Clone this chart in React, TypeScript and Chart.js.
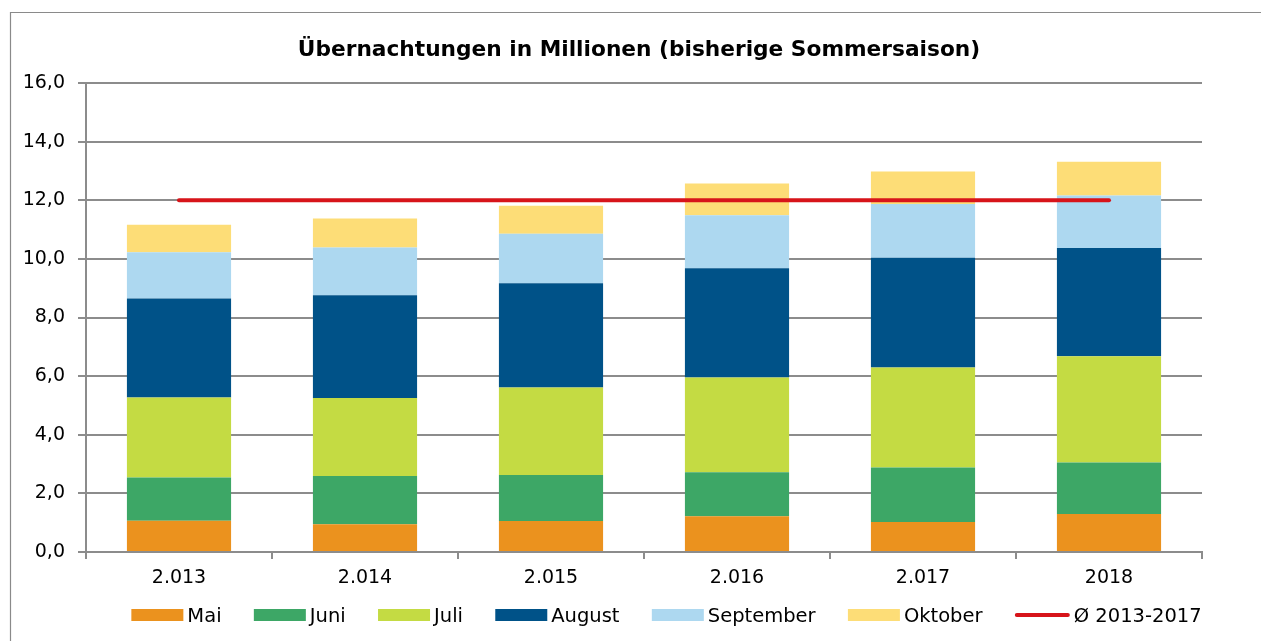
import React, { useEffect, useRef } from "react";
import { Chart, registerables } from "chart.js";

Chart.register(...registerables);

const CATEGORIES = ["2.013", "2.014", "2.015", "2.016", "2.017", "2018"];
const MAI = [1.07, 0.95, 1.06, 1.22, 1.02, 1.3];
const JUNI = [1.47, 1.64, 1.57, 1.5, 1.86, 1.75];
const JULI = [2.73, 2.66, 2.98, 3.23, 3.41, 3.63];
const AUGUST = [3.38, 3.51, 3.56, 3.73, 3.75, 3.69];
const SEPTEMBER = [1.58, 1.63, 1.69, 1.81, 1.83, 1.79];
const OKTOBER = [0.93, 0.99, 0.95, 1.08, 1.11, 1.15];
const AVERAGE = [12, 12, 12, 12, 12, 12];
const TITLE = "Übernachtungen in Millionen (bisherige Sommersaison)";
const AVERAGE_LABEL = "Ø 2013-2017";

const FONT = '"DejaVu Sans", Verdana, sans-serif';
const GRID = "#8c8c8c";

const framePlugin = {
  id: "frame",
  beforeDraw(chart: any) {
    const ctx = chart.ctx;
    ctx.save();
    ctx.strokeStyle = "#8a8a8a";
    ctx.lineWidth = 1.2;
    ctx.beginPath();
    ctx.moveTo(10.5, chart.height);
    ctx.lineTo(10.5, 12.5);
    ctx.lineTo(chart.width, 12.5);
    ctx.stroke();
    ctx.restore();
  },
};

const titlePlugin = {
  id: "customTitle",
  afterDraw(chart: any) {
    const ctx = chart.ctx;
    ctx.save();
    ctx.font = `bold 21.7px ${FONT}`;
    ctx.fillStyle = "#000";
    ctx.textAlign = "center";
    ctx.textBaseline = "alphabetic";
    ctx.fillText(TITLE, 639, 56);
    ctx.restore();
  },
};

const legendPlugin = {
  id: "customLegend",
  afterDraw(chart: any) {
    const ctx = chart.ctx;
    ctx.save();
    ctx.font = `19.5px ${FONT}`;
    const BOX = 52;
    const LINE = 55;
    const GAP = 4;
    const SPACING = 32.3;
    const CENTER_X = 666.5;
    const BASE_Y = 622;
    const BOX_TOP = 609;
    const BOX_H = 12;
    const items = chart.data.datasets.map((ds: any) => {
      const isLine = ds.type === "line";
      const tw = ctx.measureText(ds.label).width;
      return {
        label: ds.label,
        color: isLine ? ds.borderColor : ds.backgroundColor,
        isLine,
        tw,
        w: (isLine ? LINE : BOX) + GAP + tw,
      };
    });
    const total =
      items.reduce((s: number, it: any) => s + it.w, 0) + SPACING * (items.length - 1);
    let x = CENTER_X - total / 2;
    ctx.textBaseline = "alphabetic";
    ctx.textAlign = "left";
    for (const it of items) {
      if (it.isLine) {
        ctx.strokeStyle = it.color;
        ctx.lineWidth = 4;
        ctx.lineCap = "round";
        ctx.beginPath();
        ctx.moveTo(x + 2, BOX_TOP + BOX_H / 2);
        ctx.lineTo(x + LINE - 2, BOX_TOP + BOX_H / 2);
        ctx.stroke();
        x += LINE + GAP;
      } else {
        ctx.fillStyle = it.color;
        ctx.fillRect(x, BOX_TOP, BOX, BOX_H);
        x += BOX + GAP;
      }
      ctx.fillStyle = "#000";
      ctx.fillText(it.label, x, BASE_Y);
      x += it.tw + SPACING;
    }
    ctx.restore();
  },
};

export default function App() {
  const canvasRef = useRef<HTMLCanvasElement | null>(null);

  useEffect(() => {
    document.body.style.margin = "0";
    const canvas = canvasRef.current;
    if (!canvas) return;
    const barDs = (label: string, data: number[], color: string) => ({
      type: "bar" as const,
      label,
      data,
      backgroundColor: color,
      borderWidth: 0,
      stack: "months",
      order: 1,
      categoryPercentage: 1,
      barPercentage: 0.56,
    });
    const chart = new Chart(canvas, {
      type: "bar",
      data: {
        labels: CATEGORIES,
        datasets: [
          barDs("Mai", MAI, "#EB921E"),
          barDs("Juni", JUNI, "#3DA766"),
          barDs("Juli", JULI, "#C4DB43"),
          barDs("August", AUGUST, "#005288"),
          barDs("September", SEPTEMBER, "#ADD8F0"),
          barDs("Oktober", OKTOBER, "#FDDD77"),
          {
            type: "line" as const,
            label: AVERAGE_LABEL,
            data: AVERAGE,
            borderColor: "#D7141A",
            backgroundColor: "#D7141A",
            borderWidth: 4,
            borderCapStyle: "round",
            pointRadius: 0,
            stack: "avg",
            order: 0,
          } as any,
        ],
      },
      options: {
        responsive: false,
        animation: false,
        layout: { padding: { left: 22, right: 59, top: 83, bottom: 51 } },
        plugins: {
          legend: { display: false },
          tooltip: { enabled: false },
          title: { display: false },
        },
        scales: {
          x: {
            stacked: true,
            afterFit: (scale: any) => {
              scale.height = 38;
            },
            grid: {
              display: true,
              drawOnChartArea: false,
              drawTicks: true,
              tickLength: 7,
              color: GRID,
              lineWidth: 2,
              offset: true,
            },
            border: { display: true, color: GRID, width: 2 },
            ticks: { color: "#000", font: { family: FONT, size: 19 }, padding: 8 },
          },
          y: {
            stacked: true,
            min: 0,
            max: 16,
            afterFit: (scale: any) => {
              scale.width = 64;
            },
            grid: { color: GRID, lineWidth: 2, tickLength: 8, drawTicks: true },
            border: { display: true, color: GRID, width: 2 },
            ticks: {
              stepSize: 2,
              color: "#000",
              font: { family: FONT, size: 19 },
              padding: 13,
              callback: (v: any) => Number(v).toFixed(1).replace(".", ","),
            },
          },
        },
      },
      plugins: [framePlugin, titlePlugin, legendPlugin],
    });
    return () => chart.destroy();
  }, []);

  return (
    <div style={{ width: 1261, height: 641 }}>
      <canvas ref={canvasRef} width={1261} height={641} style={{ display: "block" }} />
    </div>
  );
}
